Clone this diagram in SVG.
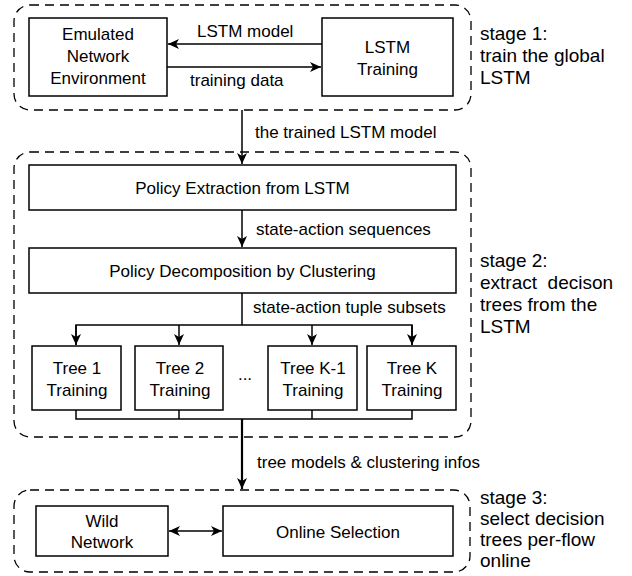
<svg xmlns="http://www.w3.org/2000/svg" width="632" height="576" viewBox="0 0 632 576">
<defs>
<marker id="ah" markerWidth="12" markerHeight="10" refX="11" refY="5" orient="auto" markerUnits="userSpaceOnUse">
<path d="M0,0 L11,5 L0,10 L3,5 z" fill="#000"/>
</marker>
<marker id="ahs" markerWidth="12" markerHeight="10" refX="1" refY="5" orient="auto" markerUnits="userSpaceOnUse">
<path d="M12,0 L1,5 L12,10 L9,5 z" fill="#000"/>
</marker>
<style>
.stage{fill:none;stroke:#000;stroke-width:1.3;stroke-dasharray:9 6}
.box{fill:#fff;stroke:#000;stroke-width:1.5}
.t{font-family:"Liberation Sans",Arial,sans-serif;font-size:17px;fill:#000}
.s{font-family:"Liberation Sans",Arial,sans-serif;font-size:19px;fill:#000}
.c{text-anchor:middle}
.ln{fill:none;stroke:#000;stroke-width:1.5}
.thick{fill:none;stroke:#000;stroke-width:2.2}
</style>
</defs>
<rect width="632" height="576" fill="#fff"/>

<g id="stage1">
<rect class="stage" x="14" y="5" width="457" height="105" rx="16"/>
<text class="s" x="480" y="40">stage 1:</text>
<text class="s" x="480" y="62">train the global</text>
<text class="s" x="480" y="84">LSTM</text>
</g>
<g id="stage2">
<rect class="stage" x="14" y="152" width="457" height="285" rx="16"/>
<text class="s" x="480" y="267">stage 2:</text>
<text class="s" x="480" y="289" xml:space="preserve">extract  decison</text>
<text class="s" x="480" y="311">trees from the</text>
<text class="s" x="480" y="333">LSTM</text>
</g>
<g id="stage3">
<rect class="stage" x="14" y="490" width="456" height="82" rx="16"/>
<text class="s" x="480" y="504">stage 3:</text>
<text class="s" x="480" y="525">select decision</text>
<text class="s" x="480" y="546">trees per-flow</text>
<text class="s" x="480" y="567">online</text>
</g>

<g id="emulated">
<rect class="box" x="29" y="18" width="138" height="78"/>
<text class="t c" x="98" y="40">Emulated</text>
<text class="t c" x="98" y="62">Network</text>
<text class="t c" x="98" y="84">Environment</text>
</g>
<g id="lstm-training">
<rect class="box" x="322" y="18" width="131" height="78"/>
<text class="t c" x="387.5" y="53">LSTM</text>
<text class="t c" x="387.5" y="75">Training</text>
</g>
<g id="policy-extraction">
<rect class="box" x="29" y="165" width="427" height="45"/>
<text class="t c" x="242.5" y="194">Policy Extraction from LSTM</text>
</g>
<g id="policy-decomposition">
<rect class="box" x="29" y="248" width="427" height="45"/>
<text class="t c" x="242.5" y="277">Policy Decomposition by Clustering</text>
</g>
<g id="tree1">
<rect class="box" x="32" y="346" width="89" height="64"/>
<text class="t c" x="77" y="374">Tree 1</text>
<text class="t c" x="77" y="396">Training</text>
</g>
<g id="tree2">
<rect class="box" x="135" y="346" width="88" height="64"/>
<text class="t c" x="180" y="374">Tree 2</text>
<text class="t c" x="180" y="396">Training</text>
</g>
<text class="t c" x="245" y="380">...</text>
<g id="treeK-1">
<rect class="box" x="268" y="346" width="89" height="64"/>
<text class="t c" x="313" y="374">Tree K-1</text>
<text class="t c" x="313" y="396">Training</text>
</g>
<g id="treeK">
<rect class="box" x="367" y="346" width="89" height="64"/>
<text class="t c" x="412" y="374">Tree K</text>
<text class="t c" x="412" y="396">Training</text>
</g>
<g id="wild-network">
<rect class="box" x="36" y="506" width="132" height="50"/>
<text class="t c" x="102" y="527">Wild</text>
<text class="t c" x="102" y="548">Network</text>
</g>
<g id="online-selection">
<rect class="box" x="223" y="506" width="230" height="50"/>
<text class="t c" x="338" y="538">Online Selection</text>
</g>

<g id="connectors">
<line class="ln" x1="322" y1="44" x2="168" y2="44" marker-end="url(#ah)"/>
<text class="t" x="197" y="37">LSTM model</text>
<line class="ln" x1="167" y1="67" x2="321" y2="67" marker-end="url(#ah)"/>
<text class="t" x="190" y="86">training data</text>
<line class="ln" x1="242" y1="110" x2="242" y2="164" marker-end="url(#ah)"/>
<text class="t" x="255" y="138">the trained LSTM model</text>
<line class="ln" x1="242" y1="210" x2="242" y2="247" marker-end="url(#ah)"/>
<text class="t" x="256" y="235">state-action sequences</text>
<polyline class="ln" points="242,293 242,325"/>
<polyline class="ln" points="76,345 76,325 412,325 412,345"/>
<line class="ln" x1="76" y1="325" x2="76" y2="345" marker-end="url(#ah)"/>
<line class="ln" x1="179" y1="325" x2="179" y2="345" marker-end="url(#ah)"/>
<line class="ln" x1="312" y1="325" x2="312" y2="345" marker-end="url(#ah)"/>
<line class="ln" x1="412" y1="325" x2="412" y2="345" marker-end="url(#ah)"/>
<text class="t" x="253" y="313">state-action tuple subsets</text>
<polyline class="ln" points="76,410 76,419 412,419 412,410"/>
<line class="ln" x1="179" y1="410" x2="179" y2="419"/>
<line class="ln" x1="312" y1="410" x2="312" y2="419"/>
<line class="thick" x1="242" y1="419" x2="242" y2="489" marker-end="url(#ah)"/>
<text class="t" x="257" y="468">tree models &amp; clustering infos</text>
<line class="ln" x1="169" y1="531" x2="222" y2="531" marker-start="url(#ahs)" marker-end="url(#ah)"/>
</g>
</svg>
